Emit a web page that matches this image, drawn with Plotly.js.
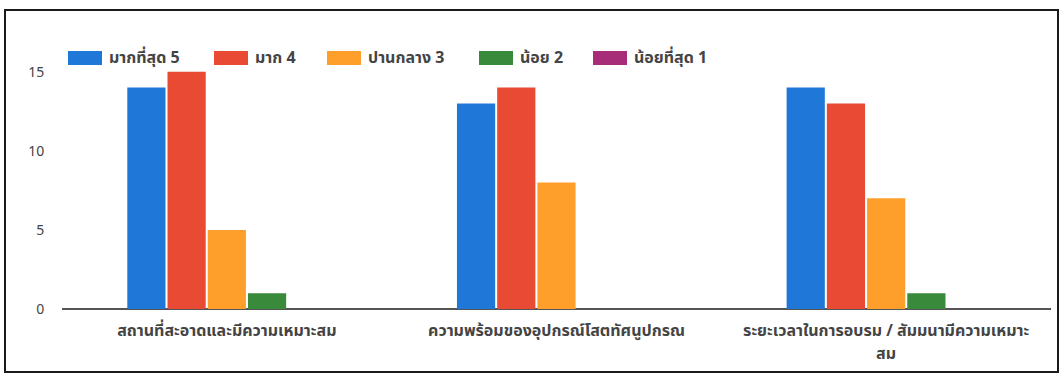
<!DOCTYPE html>
<html>
<head>
<meta charset="utf-8">
<script src="https://cdn.plot.ly/plotly-3.0.1.min.js"></script>
<style>
  html, body { margin: 0; padding: 0; background: #fff; }
  #wrap { position: relative; width: 1061px; height: 378px; overflow: hidden; }
  #chart { position: absolute; left: 0; top: 0; width: 1061px; height: 378px; }
  #frame { position: absolute; left: 4px; top: 9px; width: 1051px; height: 360px;
           border: 2px solid #1a1a1a; pointer-events: none; }
</style>
</head>
<body>
<div id="wrap">
  <div id="chart"></div>
  <div id="frame"></div>
</div>
<script>
// ---- data ----
const categories = [
  "สถานที่สะอาดและมีความเหมาะสม",
  "ความพร้อมของอุปกรณ์โสตทัศนูปกรณ",
  "ระยะเวลาในการอบรม / สัมมนามีความเหมาะสม"
];
// how each category label is wrapped in the reference (first line, remainder)
const labelLines = [
  ["สถานที่สะอาดและมีความเหมาะสม", ""],
  ["ความพร้อมของอุปกรณ์โสตทัศนูปกรณ", ""],
  ["ระยะเวลาในการอบรม / สัมมนามีความเหมาะ", "สม"]
];
const seriesNames = ["มากที่สุด 5", "มาก 4", "ปานกลาง 3", "น้อย 2", "น้อยที่สุด 1"];
const level5 = [14, 13, 14];
const level4 = [15, 14, 13];
const level3 = [5, 8, 7];
const level2 = [1, 0, 1];
const level1 = [0, 0, 0];
const yTicks = [0, 5, 10, 15];

// ---- style ----
const colors = ["#1f78d8", "#e84a33", "#ff9f2b", "#3a8a3c", "#a82d78"];
const FONT = "'Noto Sans Thai', 'Noto Sans', Roboto, 'DejaVu Sans', sans-serif";
const W = 1061, H = 378;
const M = {l: 62, r: 10, t: 67, b: 69};
const seriesValues = [level5, level4, level3, level2, level1];

const traces = seriesNames.map((name, i) => ({
  type: "bar",
  name: name,
  x: categories,
  y: seriesValues[i],
  marker: {color: colors[i]},
  showlegend: false,
  hoverinfo: "x+y+name"
}));

// custom legend (wide swatches like the reference)
const plotW = W - M.l - M.r, plotH = H - M.t - M.b;
const px2x = px => (px - M.l) / plotW;
const py2y = py => 1 + (M.t - py) / plotH;
const legendX = [68, 214, 327, 479, 593];
const swW = 34, swH = 14, legCy = 58;
const shapes = [];
const annotations = [];
seriesNames.forEach((name, i) => {
  shapes.push({
    type: "rect", xref: "paper", yref: "paper",
    x0: px2x(legendX[i]), x1: px2x(legendX[i] + swW),
    y0: py2y(legCy + swH / 2), y1: py2y(legCy - swH / 2),
    fillcolor: colors[i], line: {width: 0}
  });
  annotations.push({
    xref: "paper", yref: "paper",
    x: px2x(legendX[i] + swW + 5), y: py2y(legCy),
    xanchor: "left", yanchor: "middle", showarrow: false,
    text: "<b>" + name + "</b>",
    font: {family: FONT, size: 16, color: "#444"}
  });
});

// second lines of wrapped category labels
labelLines.forEach((lines, i) => {
  if (lines[1]) {
    annotations.push({
      xref: "x", yref: "paper",
      x: categories[i], y: py2y(354),
      xanchor: "center", yanchor: "middle", showarrow: false,
      text: "<b>" + lines[1] + "</b>",
      font: {family: FONT, size: 16, color: "#444"}
    });
  }
});

const layout = {
  width: W, height: H,
  margin: M,
  paper_bgcolor: "#fff", plot_bgcolor: "#fff",
  barmode: "group",
  bargap: 0.39,
  bargroupgap: 0.05,
  showlegend: false,
  font: {family: FONT, color: "#444"},
  xaxis: {
    type: "category",
    showgrid: false, showline: false, zeroline: false,
    ticks: "outside", ticklen: 7, tickcolor: "rgba(0,0,0,0)",
    tickfont: {family: FONT, size: 16, color: "#444"},
    tickangle: 0,
    tickvals: categories,
    ticktext: labelLines.map(l => "<b>" + l[0] + "</b>")
  },
  yaxis: {
    range: [0, 15.3],
    tickvals: yTicks,
    showgrid: false,
    zeroline: true, zerolinecolor: "#555", zerolinewidth: 1.5,
    showline: false,
    ticks: "outside", ticklen: 14, tickcolor: "rgba(0,0,0,0)",
    tickfont: {family: FONT, size: 14, color: "#444"}
  },
  shapes: shapes,
  annotations: annotations
};

Plotly.newPlot("chart", traces, layout, {displayModeBar: false, staticPlot: true});
</script>
</body>
</html>
